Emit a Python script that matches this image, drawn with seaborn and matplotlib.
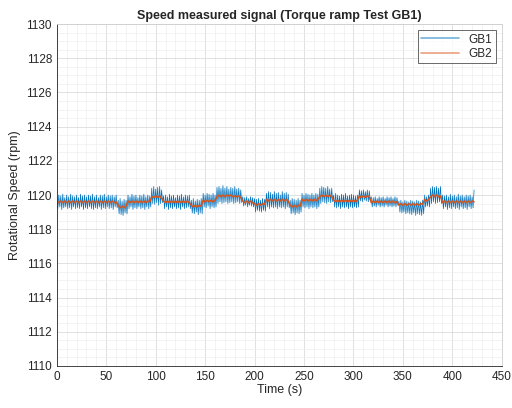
import numpy as np
import pandas as pd
import matplotlib
matplotlib.use('Agg')
import matplotlib.pyplot as plt
import seaborn as sns
from matplotlib.lines import Line2D
from matplotlib.ticker import MultipleLocator

# GB1 sampled every 1 s, GB2 every 2 s
time_gb1 = np.arange(0, 423, 1)
time_gb2 = np.arange(0, 424, 2)

# GB1 speed (rpm)
gb1 = [
    # 0-61
    1119.9, 1119.2, 1120.0, 1119.3, 1119.95, 1119.15, 1120.05, 1119.25, 1119.85, 1119.3,
    1120.0, 1119.2, 1119.9, 1119.25, 1120.05, 1119.15, 1119.95, 1119.3, 1119.9, 1119.2,
    1120.0, 1119.25, 1119.85, 1119.2, 1120.05, 1119.3, 1119.95, 1119.15, 1120.0, 1119.25,
    1119.9, 1119.2, 1120.0, 1119.3, 1119.95, 1119.2, 1120.05, 1119.15, 1119.9, 1119.25,
    1120.0, 1119.2, 1119.85, 1119.3, 1120.0, 1119.15, 1119.95, 1119.25, 1120.05, 1119.2,
    1119.9, 1119.3, 1120.0, 1119.2, 1119.95, 1119.25, 1120.0, 1119.15, 1119.9, 1119.3,
    1120.0, 1119.25,
    # 62-71
    1119.7, 1118.9, 1119.8, 1118.85, 1119.65, 1118.8, 1119.75, 1118.95, 1119.7, 1118.9,
    # 72-95
    1120.0, 1119.2, 1119.9, 1119.3, 1120.05, 1119.15, 1119.95, 1119.25, 1120.0, 1119.2,
    1119.85, 1119.3, 1120.0, 1119.2, 1119.95, 1119.25, 1120.05, 1119.15, 1119.9, 1119.3,
    1120.0, 1119.2, 1119.95, 1119.3,
    # 96-107
    1120.4, 1119.5, 1120.5, 1119.45, 1120.35, 1119.55, 1120.45, 1119.4, 1120.5, 1119.5,
    1120.3, 1119.55,
    # 108-135
    1119.95, 1119.2, 1120.0, 1119.3, 1119.9, 1119.15, 1120.05, 1119.25, 1119.95, 1119.2,
    1120.0, 1119.3, 1119.85, 1119.2, 1120.0, 1119.25, 1119.95, 1119.15, 1120.05, 1119.3,
    1119.9, 1119.2, 1120.0, 1119.25, 1119.95, 1119.3, 1120.0, 1119.2,
    # 136-147
    1119.7, 1118.95, 1119.8, 1118.9, 1119.65, 1119.0, 1119.75, 1118.85, 1119.7, 1118.95,
    1119.8, 1118.9,
    # 148-161
    1120.1, 1119.3, 1120.0, 1119.25, 1120.1, 1119.35, 1120.05, 1119.2, 1120.0, 1119.3,
    1120.1, 1119.25, 1120.0, 1119.3,
    # 162-187
    1120.45, 1119.5, 1120.5, 1119.6, 1120.4, 1119.5, 1120.55, 1119.55, 1120.4, 1119.6,
    1120.5, 1119.5, 1120.35, 1119.55, 1120.45, 1119.6, 1120.4, 1119.5, 1120.5, 1119.55,
    1120.35, 1119.6, 1120.4, 1119.5, 1120.3, 1119.55,
    # 188-199
    1119.9, 1119.35, 1119.85, 1119.4, 1119.9, 1119.3, 1119.8, 1119.4, 1119.9, 1119.35,
    1119.85, 1119.3,
    # 200-211
    1119.8, 1119.0, 1119.75, 1119.1, 1119.8, 1119.05, 1119.7, 1119.0, 1119.8, 1119.1,
    1119.75, 1119.05,
    # 212-235
    1120.1, 1119.3, 1120.2, 1119.2, 1120.15, 1119.3, 1120.05, 1119.25, 1120.2, 1119.3,
    1120.1, 1119.2, 1120.15, 1119.3, 1120.0, 1119.25, 1120.2, 1119.3, 1120.1, 1119.2,
    1120.15, 1119.3, 1120.05, 1119.25,
    # 236-247
    1119.7, 1118.9, 1119.8, 1118.95, 1119.75, 1118.85, 1119.7, 1118.95, 1119.8, 1118.9,
    1119.7, 1119.0,
    # 248-265
    1120.1, 1119.3, 1120.0, 1119.25, 1120.1, 1119.3, 1120.05, 1119.2, 1120.0, 1119.3,
    1120.1, 1119.25, 1120.0, 1119.3, 1120.1, 1119.2, 1120.05, 1119.3,
    # 266-279
    1120.4, 1119.5, 1120.5, 1119.6, 1120.45, 1119.55, 1120.4, 1119.5, 1120.5, 1119.6,
    1120.35, 1119.55, 1120.4, 1119.6,
    # 280-305
    1120.0, 1119.3, 1120.1, 1119.25, 1120.0, 1119.3, 1119.95, 1119.2, 1120.05, 1119.3,
    1120.0, 1119.25, 1120.1, 1119.3, 1119.95, 1119.2, 1120.0, 1119.3, 1120.05, 1119.25,
    1120.0, 1119.3, 1119.95, 1119.25, 1120.0, 1119.3,
    # 306-317
    1120.3, 1119.65, 1120.25, 1119.6, 1120.3, 1119.7, 1120.2, 1119.65, 1120.3, 1119.6,
    1120.25, 1119.7,
    # 318-345
    1119.9, 1119.3, 1119.85, 1119.35, 1119.9, 1119.3, 1119.8, 1119.4, 1119.9, 1119.3,
    1119.85, 1119.35, 1119.9, 1119.3, 1119.8, 1119.4, 1119.9, 1119.3, 1119.85, 1119.35,
    1119.9, 1119.3, 1119.8, 1119.35, 1119.9, 1119.3, 1119.85, 1119.4,
    # 346-371
    1119.65, 1119.0, 1119.7, 1118.95, 1119.6, 1119.0, 1119.7, 1118.9, 1119.65, 1118.95,
    1119.6, 1118.9, 1119.7, 1118.85, 1119.65, 1118.95, 1119.6, 1118.8, 1119.7, 1118.9,
    1119.65, 1118.85, 1119.6, 1118.8, 1119.7, 1118.9,
    # 372-377
    1120.0, 1119.3, 1119.9, 1119.35, 1120.0, 1119.3,
    # 378-389
    1120.4, 1119.5, 1120.5, 1119.6, 1120.45, 1119.5, 1120.5, 1119.55, 1120.4, 1119.6,
    1120.5, 1119.5,
    # 390-422
    1120.0, 1119.2, 1119.95, 1119.3, 1120.0, 1119.15, 1119.9, 1119.25, 1120.05, 1119.2,
    1119.95, 1119.3, 1120.0, 1119.2, 1119.9, 1119.25, 1120.05, 1119.15, 1119.95, 1119.3,
    1120.0, 1119.2, 1119.9, 1119.25, 1120.0, 1119.15, 1119.95, 1119.3, 1120.0, 1119.2,
    1119.9, 1119.25, 1120.3,
]

# GB2 speed (rpm), much smoother
gb2 = [
    # 0-60
    1119.65, 1119.55, 1119.65, 1119.55, 1119.65, 1119.55, 1119.65, 1119.55, 1119.65, 1119.55,
    1119.65, 1119.55, 1119.65, 1119.55, 1119.65, 1119.55, 1119.65, 1119.55, 1119.65, 1119.55,
    1119.65, 1119.55, 1119.65, 1119.55, 1119.65, 1119.55, 1119.65, 1119.55, 1119.65, 1119.55, 1119.60,
    # 62-70
    1119.40, 1119.25, 1119.35, 1119.25, 1119.35,
    # 72-94
    1119.65, 1119.55, 1119.65, 1119.55, 1119.65, 1119.55, 1119.65, 1119.55, 1119.65, 1119.55, 1119.65, 1119.60,
    # 96-106
    1119.90, 1119.85, 1119.95, 1119.85, 1119.95, 1119.80,
    # 108-134
    1119.65, 1119.55, 1119.65, 1119.55, 1119.65, 1119.55, 1119.65, 1119.55, 1119.65, 1119.55, 1119.65, 1119.55, 1119.65, 1119.55,
    # 136-146
    1119.40, 1119.30, 1119.40, 1119.30, 1119.40, 1119.35,
    # 148-160
    1119.70, 1119.60, 1119.70, 1119.60, 1119.70, 1119.60, 1119.70,
    # 162-186
    1119.90, 1120.00, 1119.90, 1120.00, 1119.90, 1120.00, 1119.95, 1120.00, 1119.90, 1119.95, 1119.90, 1119.95, 1119.85,
    # 188-198
    1119.65, 1119.55, 1119.65, 1119.55, 1119.65, 1119.55,
    # 200-210
    1119.50, 1119.40, 1119.50, 1119.40, 1119.50, 1119.45,
    # 212-234
    1119.75, 1119.65, 1119.75, 1119.65, 1119.75, 1119.65, 1119.75, 1119.65, 1119.75, 1119.65, 1119.75, 1119.65,
    # 236-246
    1119.40, 1119.30, 1119.40, 1119.30, 1119.40, 1119.35,
    # 248-264
    1119.75, 1119.65, 1119.75, 1119.65, 1119.75, 1119.65, 1119.75, 1119.65, 1119.75,
    # 266-278
    1119.90, 1120.00, 1119.90, 1120.00, 1119.90, 1120.00, 1119.90,
    # 280-304
    1119.70, 1119.60, 1119.70, 1119.60, 1119.70, 1119.60, 1119.70, 1119.60, 1119.70, 1119.60, 1119.70, 1119.60, 1119.70,
    # 306-316
    1119.95, 1119.85, 1119.95, 1119.85, 1119.95, 1119.90,
    # 318-344
    1119.55, 1119.65, 1119.55, 1119.65, 1119.55, 1119.65, 1119.55, 1119.65, 1119.55, 1119.65, 1119.55, 1119.65, 1119.55, 1119.60,
    # 346-370
    1119.40, 1119.50, 1119.40, 1119.50, 1119.40, 1119.50, 1119.40, 1119.50, 1119.40, 1119.50, 1119.40, 1119.50, 1119.45,
    # 372-376
    1119.75, 1119.65, 1119.75,
    # 378-388
    1119.90, 1120.00, 1119.90, 1120.00, 1119.90, 1119.95,
    # 390-422
    1119.55, 1119.65, 1119.55, 1119.65, 1119.55, 1119.65, 1119.55, 1119.65, 1119.55, 1119.65,
    1119.55, 1119.65, 1119.55, 1119.65, 1119.55, 1119.65, 1119.60,
]

colors = {'GB1': '#0072BD', 'GB2': '#D95319'}

sns.set_style('white')
plt.rcParams['font.family'] = ['Liberation Sans', 'DejaVu Sans']

fig = plt.figure(figsize=(5.12, 4.08), dpi=100)
ax = fig.add_axes([0.111, 0.103, 0.869, 0.838])

sns.lineplot(x=time_gb1, y=gb1, color=colors['GB1'], linewidth=0.5,
             estimator=None, ax=ax)
sns.lineplot(x=time_gb2, y=gb2, color=colors['GB2'], linewidth=1.1,
             estimator=None, ax=ax)

ax.set_xlim(0, 450)
ax.set_ylim(1110, 1130)
ax.xaxis.set_major_locator(MultipleLocator(50))
ax.xaxis.set_minor_locator(MultipleLocator(10))
ax.yaxis.set_major_locator(MultipleLocator(2))
ax.yaxis.set_minor_locator(MultipleLocator(0.5))
ax.grid(which='major', color='#dcdcdc', linewidth=0.6)
ax.grid(which='minor', color='#efefef', linewidth=0.5)
ax.set_axisbelow(True)
ax.tick_params(which='major', direction='in', length=3, labelsize=8.5,
               color='#262626', labelcolor='#262626', top=False, right=False)
ax.tick_params(which='minor', length=0)
for side in ['left', 'bottom']:
    ax.spines[side].set_color('#262626')
    ax.spines[side].set_linewidth(0.6)
for side in ['top', 'right']:
    ax.spines[side].set_color('#cfcfcf')
    ax.spines[side].set_linewidth(0.6)

ax.set_title('Speed measured signal (Torque ramp Test GB1)',
             fontsize=9, fontweight='bold', pad=4)
ax.set_xlabel('Time (s)', fontsize=9, labelpad=1)
ax.set_ylabel('Rotational Speed (rpm)', fontsize=9, labelpad=4)

handles = [Line2D([], [], color=colors[k], linewidth=1.2, alpha=0.55) for k in ['GB1', 'GB2']]
leg = ax.legend(handles, ['GB1', 'GB2'], loc='upper right', fontsize=8.5,
                frameon=True, fancybox=False, borderpad=0.3,
                handlelength=3.2, labelspacing=0.2)
leg.get_frame().set_edgecolor('#262626')
leg.get_frame().set_linewidth(0.6)

fig.savefig('out.png', dpi=100)
